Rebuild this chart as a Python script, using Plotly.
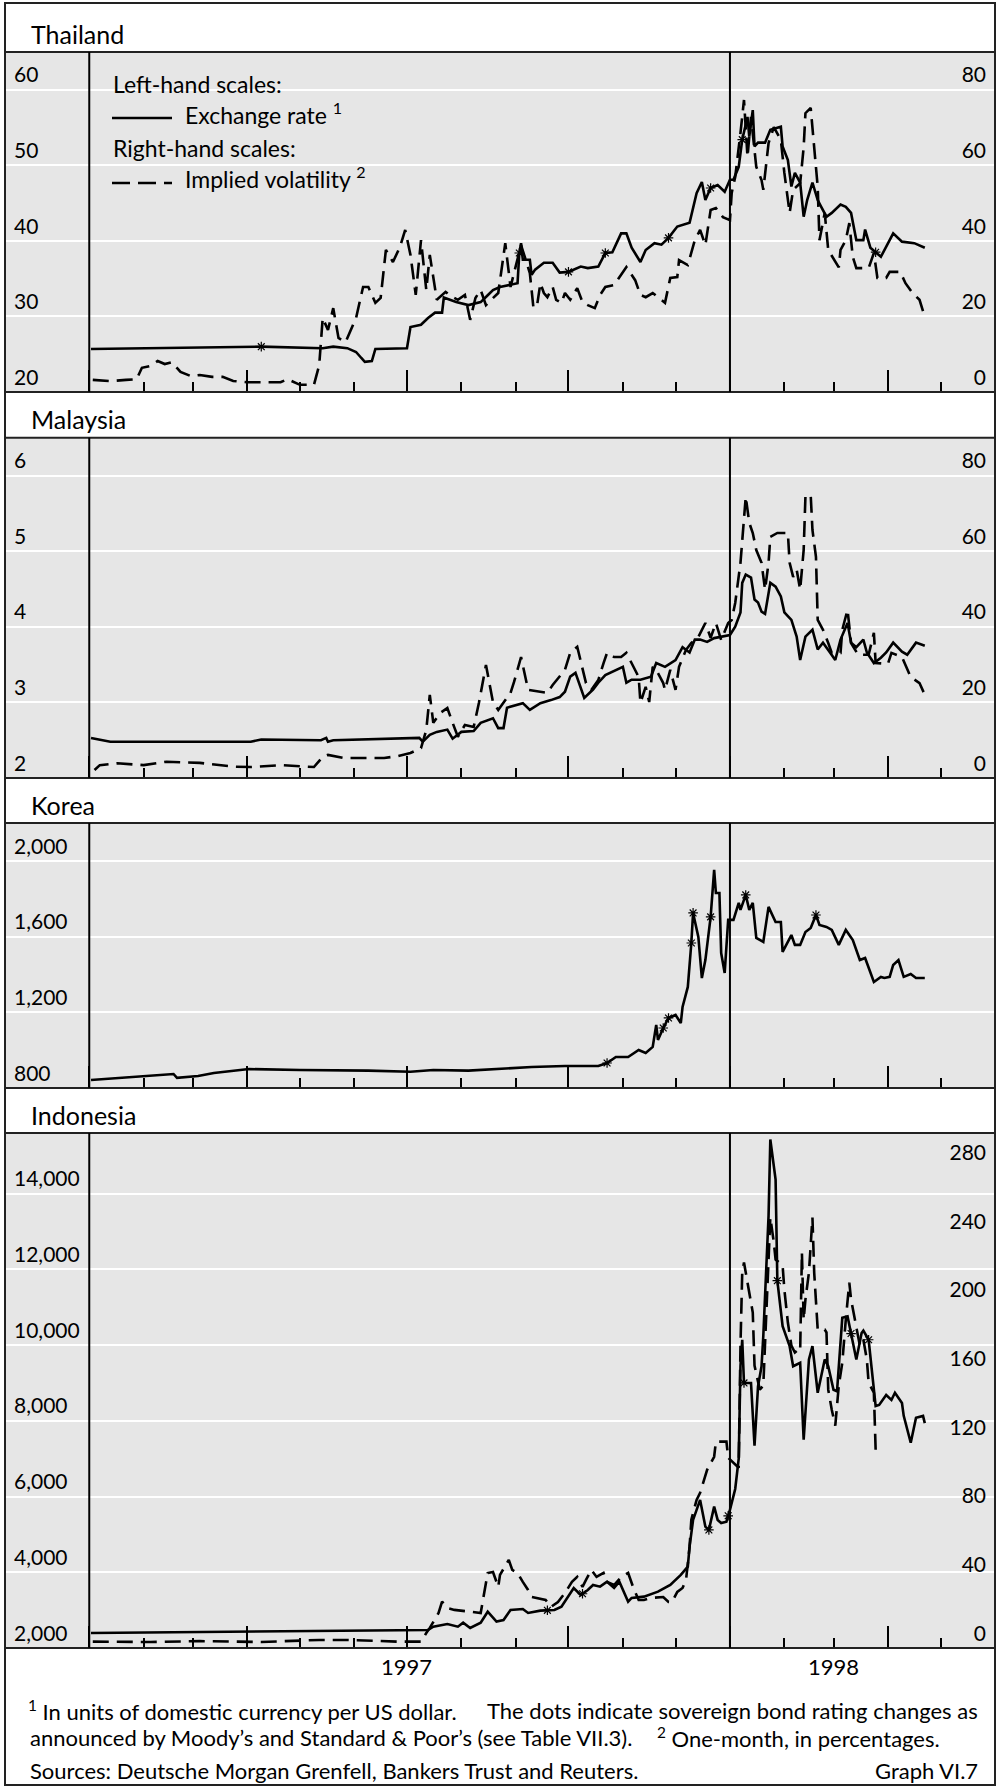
import numpy as np
import pandas as pd
import plotly.graph_objects as go

W, H = 997, 1786
FONT = "Lato"
INK = "black"
BG = "#e6e6e6"

# ---------------------------------------------------------------- Thailand
thai_fx_dates = [
    "1997-01-02", "1997-02-05", "1997-04-09", "1997-05-14", "1997-05-20", "1997-05-28",
    "1997-06-02", "1997-06-05", "1997-06-07", "1997-06-11", "1997-06-13",
    "1997-07-01", "1997-07-03", "1997-07-09", "1997-07-13", "1997-07-17", "1997-07-21", "1997-07-22", "1997-07-29",
    "1997-08-05", "1997-08-12", "1997-08-16", "1997-08-19", "1997-08-23", "1997-08-29",
    "1997-09-02", "1997-09-03", "1997-09-04", "1997-09-05", "1997-09-09", "1997-09-10", "1997-09-12", "1997-09-17", "1997-09-22", "1997-09-26",
    "1997-10-01", "1997-10-08", "1997-10-12", "1997-10-18", "1997-10-22", "1997-10-26", "1997-10-31",
    "1997-11-03", "1997-11-06", "1997-11-11", "1997-11-14", "1997-11-19", "1997-11-23", "1997-11-27",
    "1997-12-02", "1997-12-09", "1997-12-13", "1997-12-16", "1997-12-18", "1997-12-21", "1997-12-25", "1997-12-29",
    "1998-01-01", "1998-01-03", "1998-01-06", "1998-01-08", "1998-01-11", "1998-01-12", "1998-01-14", "1998-01-15", "1998-01-17", "1998-01-21", "1998-01-24", "1998-01-30", "1998-01-31",
    "1998-02-03", "1998-02-05", "1998-02-07", "1998-02-10", "1998-02-12", "1998-02-14", "1998-02-17", "1998-02-20", "1998-02-22", "1998-02-25", "1998-02-28",
    "1998-03-05", "1998-03-08", "1998-03-11", "1998-03-14", "1998-03-18", "1998-03-19", "1998-03-22", "1998-03-28", "1998-03-31",
    "1998-04-04", "1998-04-09", "1998-04-16", "1998-04-22",
]
thai_fx = [
    25.7, 25.8, 26.0, 25.8, 26.0, 25.8,
    25.3, 24.5, 24.0, 24.1, 25.7,
    25.8, 28.6, 28.9, 29.8, 30.5, 30.5, 32.5, 31.9,
    31.5, 31.9, 32.8, 33.5, 33.9, 34.2,
    34.4, 38.4, 39.7, 37.5, 37.5, 35.5, 36.2, 37.1, 37.1, 35.8,
    35.9, 36.6, 36.4, 36.6, 38.4, 38.5, 41.0,
    41.0, 39.1, 37.2, 38.8, 39.7, 39.5, 40.4,
    41.9, 42.4, 46.3, 47.8, 45.4, 47.0, 47.4, 46.5,
    48.1, 48.1, 49.8, 53.4, 56.4, 53.8, 57.3, 52.5, 53.0, 53.0, 54.7, 55.1, 52.5,
    50.7, 47.2, 49.0, 47.7, 43.2, 45.4, 47.7, 45.4, 44.5, 43.2, 43.7,
    44.8, 44.5, 43.7, 40.1, 40.1, 41.5, 39.1, 37.9, 39.2,
    41.0, 39.9, 39.7, 39.1,
]
thai_vol_dates = [
    "1997-01-03", "1997-01-13", "1997-01-22", "1997-01-28", "1997-01-31",
    "1997-02-05", "1997-02-09", "1997-02-13", "1997-02-17", "1997-02-22", "1997-02-28",
    "1997-03-05", "1997-03-12", "1997-03-18", "1997-03-24",
    "1997-04-01", "1997-04-10", "1997-04-20", "1997-04-24",
    "1997-05-01", "1997-05-09", "1997-05-12", "1997-05-14", "1997-05-17", "1997-05-20", "1997-05-23", "1997-05-27", "1997-05-30",
    "1997-06-02", "1997-06-06", "1997-06-09", "1997-06-13", "1997-06-16", "1997-06-19", "1997-06-23", "1997-06-27", "1997-06-30",
    "1997-07-03", "1997-07-06", "1997-07-09", "1997-07-12", "1997-07-14", "1997-07-18", "1997-07-23", "1997-07-26", "1997-07-30",
    "1997-08-03", "1997-08-06", "1997-08-09", "1997-08-12", "1997-08-15", "1997-08-18", "1997-08-22", "1997-08-26", "1997-08-29",
    "1997-09-04", "1997-09-09", "1997-09-11", "1997-09-13", "1997-09-15", "1997-09-17", "1997-09-19", "1997-09-22", "1997-09-24", "1997-09-27", "1997-09-29",
    "1997-10-02", "1997-10-06", "1997-10-09", "1997-10-12", "1997-10-16", "1997-10-19", "1997-10-22", "1997-10-27",
    "1997-11-03", "1997-11-08", "1997-11-11", "1997-11-14", "1997-11-18", "1997-11-25", "1997-11-28",
    "1997-12-02", "1997-12-03", "1997-12-08", "1997-12-12", "1997-12-15", "1997-12-18", "1997-12-21", "1997-12-24", "1997-12-28",
    "1998-01-01", "1998-01-02", "1998-01-04", "1998-01-07", "1998-01-09", "1998-01-11", "1998-01-13", "1998-01-16", "1998-01-19", "1998-01-20", "1998-01-23", "1998-01-26", "1998-01-30",
    "1998-02-01", "1998-02-04", "1998-02-06", "1998-02-10", "1998-02-12", "1998-02-13", "1998-02-16", "1998-02-18", "1998-02-20", "1998-02-21", "1998-02-24", "1998-02-26",
    "1998-03-04", "1998-03-05", "1998-03-08", "1998-03-10", "1998-03-12", "1998-03-14", "1998-03-21", "1998-03-24", "1998-03-26", "1998-03-31",
    "1998-04-02", "1998-04-08", "1998-04-11", "1998-04-15", "1998-04-19", "1998-04-22",
]
thai_vol = [
    3.2, 2.9, 3.2, 3.4, 6.4,
    6.9, 8.2, 7.4, 7.9, 5.3, 4.2,
    4.5, 4.0, 4.0, 2.9,
    2.6, 2.6, 2.6, 3.4,
    1.9, 1.9, 7.1, 19.6, 16.4, 22.2, 14.3, 13.2, 16.4,
    19.6, 27.8, 27.8, 23.6, 24.9, 37.6, 34.4, 38.4, 42.9,
    36.3, 25.7, 40.2, 27.0, 36.3, 24.4, 26.5, 25.4, 24.4,
    25.7, 19.1, 24.9, 27.0, 23.0, 24.4, 26.2, 39.4, 27.8,
    38.9, 31.5, 22.5, 22.5, 28.8, 26.2, 25.1, 27.8, 24.4, 23.6, 26.2,
    24.4, 27.5, 23.8, 23.0, 22.2, 25.7, 27.8, 28.3,
    33.1, 29.6, 25.7, 25.1, 26.2, 23.6, 30.2,
    30.4, 34.9, 33.6, 40.2, 42.9, 38.9, 48.2, 48.7, 46.3,
    45.5, 52.7, 56.9, 68.6, 77.3, 62.2, 72.8, 59.6, 56.1, 53.5, 65.9, 70.1, 66.7,
    58.0, 47.4, 53.5, 55.3, 64.8, 73.8, 75.2, 64.8, 54.3, 40.2, 47.4, 37.6,
    33.0, 37.6, 40.2, 44.7, 35.7, 32.8, 32.8, 36.8, 30.2, 30.2,
    31.8, 31.8, 28.8, 26.2, 24.4, 19.9,
]
thai_rating_dates = ["1997-04-09", "1997-09-03", "1997-10-01", "1997-10-22",
                     "1997-11-27", "1997-12-21", "1998-01-08", "1998-03-25"]

# ---------------------------------------------------------------- Malaysia
malay_fx_dates = [
    "1997-01-02", "1997-01-13", "1997-04-03", "1997-04-09", "1997-05-13", "1997-05-16", "1997-05-17", "1997-05-20",
    "1997-07-08", "1997-07-10", "1997-07-14", "1997-07-18", "1997-07-24", "1997-07-27",
    "1997-08-01", "1997-08-08", "1997-08-12", "1997-08-16", "1997-08-19", "1997-08-22", "1997-08-25", "1997-08-27",
    "1997-09-02", "1997-09-05", "1997-09-09", "1997-09-15", "1997-09-21", "1997-09-26", "1997-09-29",
    "1997-10-02", "1997-10-05", "1997-10-07", "1997-10-10", "1997-10-15", "1997-10-18", "1997-10-22", "1997-10-28",
    "1997-11-01", "1997-11-03", "1997-11-06", "1997-11-11", "1997-11-17", "1997-11-20", "1997-11-25",
    "1997-12-01", "1997-12-05", "1997-12-09", "1997-12-12", "1997-12-15", "1997-12-19", "1997-12-23", "1997-12-27",
    "1998-01-01", "1998-01-04", "1998-01-07", "1998-01-08", "1998-01-10", "1998-01-13", "1998-01-15", "1998-01-17", "1998-01-19", "1998-01-21", "1998-01-24", "1998-01-27", "1998-01-30",
    "1998-02-01", "1998-02-05", "1998-02-08", "1998-02-10", "1998-02-13", "1998-02-17", "1998-02-20", "1998-02-23", "1998-02-27",
    "1998-03-02", "1998-03-05", "1998-03-09", "1998-03-11", "1998-03-14", "1998-03-18", "1998-03-20", "1998-03-24", "1998-03-28", "1998-03-31",
    "1998-04-04", "1998-04-09", "1998-04-12", "1998-04-17", "1998-04-22",
]
malay_fx = [
    2.53, 2.48, 2.48, 2.51, 2.50, 2.53, 2.48, 2.50,
    2.53, 2.48, 2.57, 2.61, 2.64, 2.52,
    2.61, 2.62, 2.73, 2.77, 2.79, 2.66, 2.66, 2.93,
    2.97, 2.99, 2.90, 2.99, 3.03, 3.07, 3.14,
    3.34, 3.39, 3.26, 3.06, 3.17, 3.26, 3.36, 3.43,
    3.47, 3.26, 3.30, 3.30, 3.34, 3.52, 3.47,
    3.56, 3.73, 3.66, 3.83, 3.83, 3.80, 3.85, 3.87,
    3.89, 4.00, 4.19, 4.58, 4.69, 4.65, 4.36, 4.32, 4.20, 4.17, 4.58, 4.53, 4.40,
    4.19, 4.09, 3.87, 3.56, 3.87, 3.96, 3.70, 3.79, 3.66,
    3.56, 3.83, 4.05, 3.79, 3.73, 3.83, 3.66, 3.52, 3.59, 3.66,
    3.79, 3.67, 3.63, 3.79, 3.75,
]
malay_vol_dates = [
    "1997-01-04", "1997-01-07", "1997-01-17", "1997-02-01", "1997-02-14", "1997-03-05", "1997-03-24",
    "1997-04-03", "1997-04-20", "1997-05-01", "1997-05-09", "1997-05-14", "1997-05-17", "1997-05-26",
    "1997-06-18", "1997-06-26",
    "1997-07-03", "1997-07-09", "1997-07-12", "1997-07-14", "1997-07-16", "1997-07-20", "1997-07-24", "1997-07-27", "1997-07-30",
    "1997-08-03", "1997-08-08", "1997-08-11", "1997-08-15", "1997-08-19", "1997-08-22", "1997-08-29", "1997-08-31",
    "1997-09-04", "1997-09-08", "1997-09-19", "1997-09-22", "1997-09-29",
    "1997-10-02", "1997-10-06", "1997-10-09", "1997-10-11", "1997-10-14", "1997-10-18", "1997-10-21", "1997-10-23", "1997-10-27", "1997-10-31",
    "1997-11-03", "1997-11-07", "1997-11-10", "1997-11-11", "1997-11-14", "1997-11-16", "1997-11-18", "1997-11-20", "1997-11-24", "1997-11-25", "1997-11-28",
    "1997-12-01", "1997-12-03", "1997-12-07", "1997-12-10", "1997-12-14", "1997-12-18", "1997-12-21", "1997-12-24", "1997-12-27", "1997-12-31",
    "1998-01-02", "1998-01-04", "1998-01-07", "1998-01-09", "1998-01-10", "1998-01-12", "1998-01-14", "1998-01-16", "1998-01-19", "1998-01-21", "1998-01-23", "1998-01-24", "1998-01-28",
    "1998-02-03", "1998-02-04", "1998-02-06", "1998-02-08", "1998-02-10", "1998-02-12", "1998-02-13", "1998-02-16", "1998-02-17", "1998-02-19", "1998-02-20", "1998-02-23", "1998-02-26", "1998-02-28",
    "1998-03-05", "1998-03-06", "1998-03-09", "1998-03-11", "1998-03-15", "1998-03-21", "1998-03-24", "1998-03-25",
    "1998-04-01", "1998-04-03", "1998-04-09", "1998-04-14", "1998-04-19", "1998-04-22",
]
malay_vol = [
    2.1, 3.4, 3.9, 3.4, 4.3, 4.0, 3.0,
    2.9, 3.4, 3.0, 2.9, 5.6, 6.1, 5.3,
    5.3, 5.8,
    6.6, 7.9, 12.7, 22.0, 14.6, 17.2, 18.5, 14.6, 10.9,
    14.0, 13.5, 19.9, 29.9, 20.1, 18.0, 22.5, 25.4,
    32.0, 23.3, 22.5, 24.6, 28.6,
    33.1, 34.7, 28.6, 25.1, 23.3, 25.9, 30.4, 33.1, 32.0, 32.0,
    33.1, 29.4, 26.7, 19.9, 24.1, 20.1, 29.4, 28.6, 25.1, 23.3, 28.6,
    23.3, 29.4, 33.9, 35.7, 37.3, 41.0, 37.1, 41.0, 36.5, 41.0,
    41.8, 46.3, 56.9, 67.5, 74.4, 67.5, 64.8, 60.3, 56.9, 49.8, 56.9, 63.8, 64.8,
    64.8, 56.9, 53.2, 55.1, 49.8, 60.3, 74.4, 74.9, 65.6, 58.5, 41.8, 39.2, 35.7, 33.1,
    33.1, 39.2, 44.5, 35.7, 32.6, 32.6, 38.4, 30.4,
    30.2, 33.1, 32.0, 26.7, 25.1, 22.0,
]

# ---------------------------------------------------------------- Korea
korea_fx_dates = [
    "1997-01-02", "1997-01-30", "1997-02-18", "1997-02-20", "1997-03-04", "1997-03-13", "1997-03-28",
    "1997-04-02", "1997-05-01", "1997-06-09", "1997-07-03", "1997-07-16", "1997-08-05", "1997-08-23",
    "1997-09-10", "1997-09-29", "1997-10-18", "1997-10-23", "1997-10-28",
    "1997-11-04", "1997-11-10", "1997-11-14", "1997-11-18", "1997-11-20", "1997-11-21", "1997-11-24", "1997-11-27",
    "1997-12-01", "1997-12-04", "1997-12-05", "1997-12-08", "1997-12-10", "1997-12-11", "1997-12-14", "1997-12-16",
    "1997-12-18", "1997-12-21", "1997-12-23", "1997-12-24", "1997-12-26", "1997-12-27", "1997-12-29", "1997-12-31",
    "1998-01-03", "1998-01-06", "1998-01-07", "1998-01-10", "1998-01-12", "1998-01-14", "1998-01-16", "1998-01-20",
    "1998-01-23", "1998-01-27", "1998-01-30", "1998-01-31",
    "1998-02-05", "1998-02-07", "1998-02-10", "1998-02-13", "1998-02-16", "1998-02-19", "1998-02-21", "1998-02-25", "1998-02-28",
    "1998-03-04", "1998-03-08", "1998-03-12", "1998-03-16", "1998-03-19", "1998-03-24", "1998-03-28", "1998-03-30",
    "1998-04-02", "1998-04-04", "1998-04-07", "1998-04-10", "1998-04-14", "1998-04-17", "1998-04-22",
]
korea_fx = [
    842, 860, 874, 854, 863, 879, 895,
    900, 895, 892, 886, 895, 892, 902,
    911, 916, 916, 932, 964,
    964, 1001, 985, 1017, 1133, 1054, 1117, 1170,
    1186, 1143, 1228, 1334, 1566, 1725, 1598, 1381,
    1476, 1704, 1952, 1830, 1830, 1513, 1408, 1688,
    1688, 1778, 1741, 1820, 1741, 1778, 1593, 1572,
    1757, 1677, 1677, 1519,
    1608, 1556, 1556, 1624, 1645, 1714, 1661, 1651, 1635,
    1556, 1635, 1582, 1476, 1487, 1360, 1387, 1381,
    1387, 1450, 1476, 1387, 1402, 1381, 1381,
]
korea_rating_dates = ["1997-10-23", "1997-11-24", "1997-11-27", "1997-12-10",
                      "1997-12-11", "1997-12-21", "1998-01-10", "1998-02-19"]

# ---------------------------------------------------------------- Indonesia
indo_fx_dates = [
    "1997-01-02", "1997-04-03", "1997-07-03", "1997-07-13", "1997-07-16", "1997-07-20", "1997-07-24", "1997-07-30",
    "1997-08-02", "1997-08-06", "1997-08-12", "1997-08-16", "1997-08-21", "1997-08-25", "1997-08-29",
    "1997-09-05", "1997-09-08", "1997-09-15", "1997-09-23", "1997-09-27",
    "1997-10-01", "1997-10-04", "1997-10-08", "1997-10-12", "1997-10-15", "1997-10-19", "1997-10-23", "1997-10-27", "1997-10-30",
    "1997-11-02", "1997-11-04", "1997-11-06", "1997-11-13", "1997-11-21", "1997-11-28",
    "1997-12-04", "1997-12-08", "1997-12-09", "1997-12-11", "1997-12-15", "1997-12-18", "1997-12-20", "1997-12-23", "1997-12-25", "1997-12-27", "1997-12-30",
    "1998-01-01", "1998-01-04", "1998-01-06", "1998-01-07", "1998-01-08", "1998-01-09", "1998-01-13", "1998-01-15", "1998-01-17", "1998-01-19",
    "1998-01-20", "1998-01-23", "1998-01-24", "1998-01-27", "1998-01-28", "1998-01-31",
    "1998-02-04", "1998-02-06", "1998-02-10", "1998-02-12", "1998-02-15", "1998-02-17", "1998-02-20", "1998-02-24", "1998-02-26",
    "1998-03-01", "1998-03-03", "1998-03-06", "1998-03-09", "1998-03-14", "1998-03-17", "1998-03-18", "1998-03-21", "1998-03-25", "1998-03-27", "1998-03-31",
    "1998-04-03", "1998-04-05", "1998-04-09", "1998-04-10", "1998-04-14", "1998-04-17", "1998-04-21", "1998-04-22",
]
indo_fx = [
    2396, 2425, 2457, 2476, 2563, 2607, 2634, 2563,
    2669, 2528, 2669, 2959, 2696, 2740, 3004,
    3030, 2925, 2986, 3004, 3092,
    3356, 3585, 3400, 3532, 3665, 3620, 3752, 3585, 3752,
    3453, 3223, 3321, 3356, 3488, 3665,
    3929, 4148, 4677, 5382, 5910, 5205, 5118, 5733, 5382, 5302, 5337,
    5646, 6200, 7000, 9450, 10140, 9000, 9000, 7340, 8910, 9440,
    10240, 13410, 15430, 14370, 11700, 10500,
    9970, 9440, 9530, 7500, 9620, 9970, 8740, 9620, 9440,
    8820, 8780, 10720, 10760, 9620, 10320, 10380, 10140, 8390, 8420, 8680,
    8550, 8740, 8470, 8130, 7420, 8080, 8130, 7940,
]
indo_vol_dates = [
    "1997-01-03", "1997-02-05", "1997-03-05", "1997-04-09", "1997-05-12", "1997-05-28", "1997-06-26",
    "1997-07-09", "1997-07-12", "1997-07-14", "1997-07-19", "1997-07-21", "1997-07-24", "1997-07-28",
    "1997-08-12", "1997-08-14", "1997-08-16", "1997-08-19", "1997-08-22", "1997-08-23", "1997-08-28", "1997-08-30",
    "1997-09-02", "1997-09-05", "1997-09-08", "1997-09-10", "1997-09-13", "1997-09-18", "1997-09-21", "1997-09-25", "1997-09-29",
    "1997-10-03", "1997-10-06", "1997-10-09", "1997-10-11", "1997-10-14", "1997-10-17", "1997-10-21", "1997-10-23", "1997-10-27", "1997-10-31",
    "1997-11-04", "1997-11-07", "1997-11-10", "1997-11-13", "1997-11-17", "1997-11-24", "1997-11-27", "1997-11-29",
    "1997-12-02", "1997-12-05", "1997-12-07", "1997-12-09", "1997-12-10", "1997-12-13", "1997-12-15", "1997-12-19", "1997-12-23", "1997-12-24", "1997-12-30", "1997-12-31",
    "1998-01-06", "1998-01-07", "1998-01-08", "1998-01-09", "1998-01-12", "1998-01-14", "1998-01-15", "1998-01-18", "1998-01-20", "1998-01-21",
    "1998-01-24", "1998-01-26", "1998-01-27", "1998-01-29", "1998-01-31",
    "1998-02-01", "1998-02-03", "1998-02-05", "1998-02-07", "1998-02-09", "1998-02-10", "1998-02-11", "1998-02-12", "1998-02-13", "1998-02-15",
    "1998-02-17", "1998-02-18", "1998-02-20", "1998-02-24", "1998-02-25", "1998-02-26", "1998-02-28",
    "1998-03-02", "1998-03-04", "1998-03-06", "1998-03-08", "1998-03-10", "1998-03-11", "1998-03-13", "1998-03-16", "1998-03-18", "1998-03-20",
    "1998-03-21", "1998-03-24", "1998-03-25",
]
indo_vol = [
    3.7, 3.5, 4.0, 3.5, 4.7, 4.7, 3.7,
    3.7, 8.7, 11.7, 20.4, 27.0, 23.3, 22.2,
    20.4, 32.1, 43.7, 44.3, 35.6, 42.6, 51.3, 45.5,
    43.7, 38.5, 33.8, 29.7, 29.2, 28.0, 23.9, 26.8, 32.1,
    38.5, 41.4, 35.6, 39.7, 45.5, 41.4, 43.7, 38.5, 36.7, 41.4,
    43.7, 35.0, 28.0, 28.0, 29.2, 29.7, 26.8, 26.8,
    32.7, 35.0, 39.7, 58.9, 74.7, 86.3, 90.4, 103.8, 111.4, 120.2, 120.2, 110.8,
    105.0, 176.2, 218.7, 224.6, 207.1, 195.4, 164.5, 150.5, 152.8, 176.2,
    250.8, 236.2, 226.3, 224.6, 222.8,
    208.8, 189.6, 176.2, 172.1, 173.8, 173.0, 230.4, 191.3, 203.0, 218.7,
    250.8, 218.7, 185.5, 185.5, 183.8, 150.5, 138.8,
    129.5, 152.8, 166.2, 191.3, 212.9, 203.0, 191.3, 176.2, 179.7, 168.0,
    154.6, 148.7, 115.5,
]
indo_rating_dates = ["1997-09-19", "1997-10-09", "1997-12-20", "1997-12-31",
                     "1998-01-09", "1998-01-28", "1998-03-11", "1998-03-21"]

# ---------------------------------------------------------------- axes / labels
quarter_ticks = ["1997-01-01", "1997-04-01", "1997-07-01", "1997-10-01", "1998-01-01", "1998-04-01"]
month_ticks = ["1997-02-01", "1997-03-01", "1997-05-01", "1997-06-01", "1997-08-01", "1997-09-01",
               "1997-11-01", "1997-12-01", "1998-02-01", "1998-03-01", "1998-05-01"]
year_labels = ["1997", "1998"]
year_label_dates = ["1997-07-01", "1998-03-01"]
divider_dates = ["1997-01-01", "1998-01-01"]
X_RANGE = ["1996-11-14", "1998-06-01"]

thai_left_ticks = [20, 30, 40, 50, 60]
thai_right_ticks = [0, 20, 40, 60, 80]
malay_left_ticks = [2, 3, 4, 5, 6]
malay_right_ticks = [0, 20, 40, 60, 80]
korea_left_ticks = [800, 1200, 1600, 2000]
indo_left_ticks = [2000, 4000, 6000, 8000, 10000, 12000, 14000]
indo_right_ticks = [0, 40, 80, 120, 160, 200, 240, 280]


def xp(px):
    return (px - 5) / 990.0


def yp(py):
    return 1 - py / H


# panel pixel extents (top, bottom)
P_THAI = (52, 392)
P_MALAY = (437.7, 778)
P_KOREA = (823, 1088)
P_INDO = (1133, 1648)


def dom(p):
    return [yp(p[1]), yp(p[0])]


def to_dt(s):
    return pd.to_datetime(s).astype("int64")


def on_line(star_dates, dates, values):
    return np.interp(to_dt(star_dates), to_dt(dates), values)


fig = go.Figure()

SOLID = dict(color=INK, width=2.6)
DASH = dict(color=INK, width=2.6, dash="16px,8px")
STAR = dict(symbol="asterisk-open", size=8, color=INK, line=dict(color=INK, width=1.2))

# Thailand
fig.add_trace(go.Scatter(x=thai_fx_dates, y=thai_fx, mode="lines", line=SOLID, xaxis="x", yaxis="y"))
fig.add_trace(go.Scatter(x=thai_vol_dates, y=thai_vol, mode="lines", line=DASH, xaxis="x", yaxis="y2"))
fig.add_trace(go.Scatter(x=thai_rating_dates, y=on_line(thai_rating_dates, thai_fx_dates, thai_fx),
                         mode="markers", marker=STAR, xaxis="x", yaxis="y"))
# Malaysia
fig.add_trace(go.Scatter(x=malay_fx_dates, y=malay_fx, mode="lines", line=SOLID, xaxis="x2", yaxis="y3"))
fig.add_trace(go.Scatter(x=malay_vol_dates, y=malay_vol, mode="lines", line=DASH, xaxis="x2", yaxis="y4"))
# Korea
fig.add_trace(go.Scatter(x=korea_fx_dates, y=korea_fx, mode="lines", line=SOLID, xaxis="x3", yaxis="y5"))
fig.add_trace(go.Scatter(x=korea_rating_dates, y=on_line(korea_rating_dates, korea_fx_dates, korea_fx),
                         mode="markers", marker=STAR, xaxis="x3", yaxis="y5"))
# Indonesia
fig.add_trace(go.Scatter(x=indo_fx_dates, y=indo_fx, mode="lines", line=SOLID, xaxis="x4", yaxis="y6"))
fig.add_trace(go.Scatter(x=indo_vol_dates, y=indo_vol, mode="lines", line=DASH, xaxis="x4", yaxis="y7"))
fig.add_trace(go.Scatter(x=indo_rating_dates, y=on_line(indo_rating_dates, indo_fx_dates, indo_fx),
                         mode="markers", marker=STAR, xaxis="x4", yaxis="y6"))

TICKFONT = dict(family=FONT, size=21, color=INK)


def xaxis_cfg(anchor):
    return dict(type="date", range=X_RANGE, domain=[0, 1], anchor=anchor,
                showgrid=False, zeroline=False, showline=False,
                tickmode="array", tickvals=quarter_ticks, ticks="inside", ticklen=22,
                tickwidth=2, tickcolor=INK, showticklabels=False,
                minor=dict(tickmode="array", tickvals=month_ticks, ticks="inside", ticklen=10,
                           tickwidth=2, tickcolor=INK, showgrid=False))


def yleft_cfg(domain, rng, ticks, anchor, fmt=None):
    d = dict(domain=domain, range=rng, anchor=anchor, tickmode="array", tickvals=ticks,
             showgrid=True, gridcolor="white", gridwidth=2, zeroline=False, showline=False,
             ticks="", ticklabelposition="inside top", ticklabelstandoff=6, tickfont=TICKFONT)
    if fmt:
        d["tickformat"] = fmt
    return d


def yright_cfg(over, rng, ticks, anchor):
    return dict(overlaying=over, side="right", range=rng, anchor=anchor, tickmode="array",
                tickvals=ticks, showgrid=False, zeroline=False, showline=False, ticks="",
                ticklabelposition="inside top", ticklabelstandoff=6, tickfont=TICKFONT)


layout = dict(
    width=W, height=H, margin=dict(l=5, r=2, t=0, b=0),
    paper_bgcolor="white", plot_bgcolor=BG, showlegend=False,
    font=dict(family=FONT, color=INK),
    xaxis=xaxis_cfg("y"), xaxis2=xaxis_cfg("y3"), xaxis3=xaxis_cfg("y5"), xaxis4=xaxis_cfg("y6"),
    yaxis=yleft_cfg(dom(P_THAI), [20, 65], thai_left_ticks, "x"),
    yaxis2=yright_cfg("y", [0, 90], thai_right_ticks, "x"),
    yaxis3=yleft_cfg(dom(P_MALAY), [2, 6.5], malay_left_ticks, "x2"),
    yaxis4=yright_cfg("y3", [0, 90], malay_right_ticks, "x2"),
    yaxis5=yleft_cfg(dom(P_KOREA), [800, 2200], korea_left_ticks, "x3", ","),
    yaxis6=yleft_cfg(dom(P_INDO), [2000, 15600], indo_left_ticks, "x4", ","),
    yaxis7=yright_cfg("y6", [0, 300], indo_right_ticks, "x4"),
)
fig.update_layout(**layout)

shapes = []
BORDER = dict(color="#222222", width=2)
# outer frame
shapes.append(dict(type="rect", xref="paper", yref="paper", x0=0, x1=1, y0=yp(1785), y1=yp(3),
                   line=BORDER, fillcolor="rgba(0,0,0,0)", layer="above"))
for py in [52, 392, 437.7, 778, 823, 1088, 1133, 1648]:
    shapes.append(dict(type="line", xref="paper", yref="paper", x0=0, x1=1, y0=yp(py), y1=yp(py),
                       line=BORDER, layer="above"))
# vertical dividers at the start of each year
for xr, yr in [("x", "y"), ("x2", "y3"), ("x3", "y5"), ("x4", "y6")]:
    for d in divider_dates:
        shapes.append(dict(type="line", xref=xr, yref=yr + " domain", x0=d, x1=d, y0=0, y1=1,
                           line=dict(color=INK, width=2), layer="above"))
# legend keys (Thailand panel)
shapes.append(dict(type="line", xref="paper", yref="paper", x0=xp(112), x1=xp(172), y0=yp(118), y1=yp(118),
                   line=dict(color=INK, width=2.4)))
shapes.append(dict(type="line", xref="paper", yref="paper", x0=xp(112), x1=xp(172), y0=yp(183), y1=yp(183),
                   line=dict(color=INK, width=2.4, dash="18px,8px")))
fig.update_layout(shapes=shapes)

ann = []


def text(s, x, y, size, anchor="left", **kw):
    ann.append(dict(text=s, xref="paper", yref="paper", x=xp(x), y=yp(y), xanchor=anchor,
                    yanchor="middle", showarrow=False, font=dict(family=FONT, size=size, color=INK), **kw))


text("Thailand", 29, 34, 25)
text("Malaysia", 29, 419, 25)
text("Korea", 29, 805, 25)
text("Indonesia", 29, 1115, 25)

text("Left-hand scales:", 111, 84, 23)
text("Exchange rate <sup>1</sup>", 183, 114, 23)
text("Right-hand scales:", 111, 148, 23)
text("Implied volatility <sup>2</sup>", 183, 178, 23)

for lab, d in zip(year_labels, year_label_dates):
    ann.append(dict(text=lab, xref="x4", yref="paper", x=d, y=yp(1666), xanchor="center",
                    yanchor="middle", showarrow=False, font=dict(family=FONT, size=22, color=INK)))

text("<sup>1</sup> In units of domestic currency per US dollar.", 26, 1710, 22)
text("The dots indicate sovereign bond rating changes as", 980, 1710, 22, anchor="right")
text("announced by Moody’s and Standard &amp; Poor’s (see Table VII.3).", 28, 1737, 22)
text("<sup>2</sup> One-month, in percentages.", 655, 1737, 22)
text("Sources: Deutsche Morgan Grenfell, Bankers Trust and Reuters.", 28, 1770, 22)
text("Graph VI.7", 980, 1770, 22, anchor="right")

fig.update_layout(annotations=ann)

fig.write_html("out.html", config={"displayModeBar": False},
               post_script="document.body.style.margin='0';")
